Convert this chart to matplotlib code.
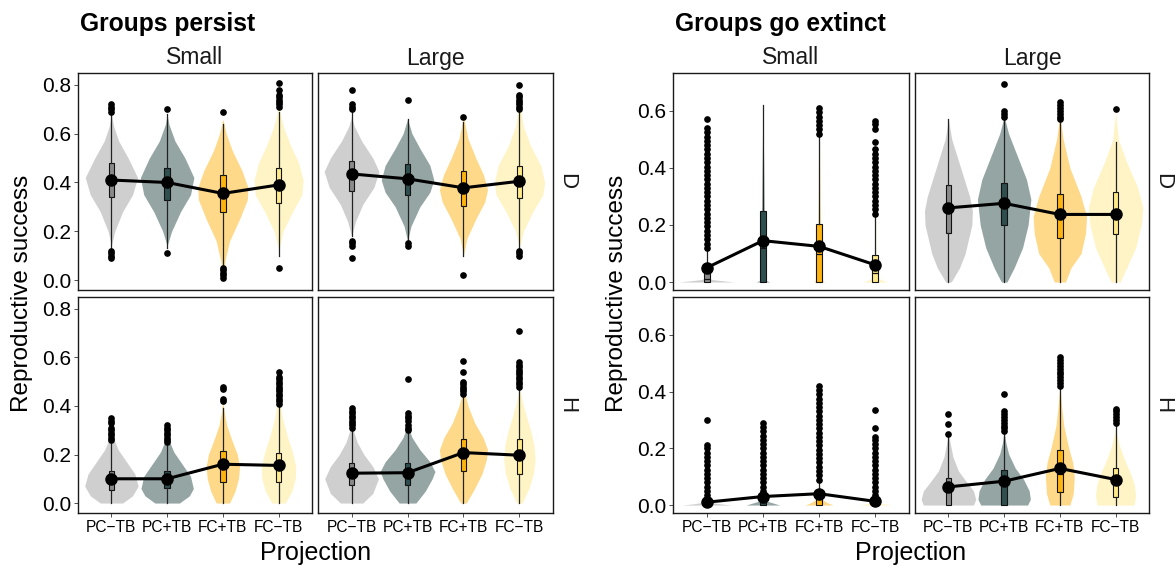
import matplotlib
matplotlib.use('Agg')
import matplotlib.pyplot as plt

plt.rcParams['font.family'] = ['Liberation Sans', 'DejaVu Sans']

categories = ["PC−TB", "PC+TB", "FC+TB", "FC−TB"]
box_colors = ["#8a8a8a", "#2f4f4f", "#ffb30f", "#ffea8a"]
violin_colors = ["#cfcfcf", "#95a5a4", "#fed98a", "#fff4c6"]

# ---- Groups persist ----
# violin outlines: (y, half width in category units)
ps_D_violin = [
    [(0.14, 0), (0.2, 0.06), (0.28, 0.2), (0.35, 0.38), (0.42, 0.47), (0.5, 0.3), (0.57, 0.13), (0.63, 0.04), (0.68, 0)],
    [(0.14, 0), (0.2, 0.08), (0.28, 0.24), (0.35, 0.42), (0.42, 0.48), (0.5, 0.32), (0.57, 0.14), (0.64, 0.03), (0.68, 0)],
    [(0.01, 0), (0.08, 0.04), (0.16, 0.12), (0.25, 0.3), (0.33, 0.44), (0.38, 0.45), (0.45, 0.34), (0.53, 0.17), (0.6, 0.06), (0.66, 0)],
    [(0.12, 0), (0.2, 0.08), (0.28, 0.25), (0.35, 0.42), (0.41, 0.44), (0.48, 0.36), (0.55, 0.22), (0.62, 0.1), (0.68, 0.03), (0.72, 0)],
]
ps_D_box = [[0.13, 0.34, 0.41, 0.48, 0.68], [0.13, 0.33, 0.40, 0.46, 0.68],
            [0.06, 0.28, 0.35, 0.43, 0.64], [0.10, 0.315, 0.39, 0.46, 0.69]]
ps_D_out = [[0.69, 0.70, 0.71, 0.72, 0.12, 0.11, 0.10, 0.09], [0.70, 0.11],
            [0.69, 0.05, 0.04, 0.03, 0.02, 0.01],
            [0.71, 0.72, 0.73, 0.74, 0.75, 0.76, 0.78, 0.81, 0.05]]
ps_D_mean = [0.41, 0.40, 0.355, 0.39]

ps_H_violin = [
    [(0, 0.2), (0.03, 0.38), (0.07, 0.48), (0.12, 0.42), (0.17, 0.27), (0.22, 0.12), (0.27, 0.03), (0.3, 0)],
    [(0, 0.22), (0.03, 0.4), (0.06, 0.47), (0.11, 0.42), (0.16, 0.27), (0.21, 0.12), (0.26, 0.03), (0.29, 0)],
    [(0, 0.12), (0.05, 0.22), (0.1, 0.28), (0.15, 0.3), (0.2, 0.26), (0.26, 0.16), (0.32, 0.07), (0.38, 0.02), (0.42, 0)],
    [(0, 0.12), (0.05, 0.24), (0.1, 0.3), (0.15, 0.31), (0.21, 0.25), (0.28, 0.15), (0.35, 0.07), (0.42, 0.02), (0.46, 0)],
]
ps_H_box = [[0, 0.055, 0.09, 0.13, 0.25], [0, 0.06, 0.09, 0.13, 0.24],
            [0, 0.085, 0.15, 0.215, 0.39], [0, 0.085, 0.145, 0.205, 0.40]]
ps_H_out = [[0.26, 0.27, 0.28, 0.29, 0.30, 0.31, 0.33, 0.34, 0.35],
            [0.25, 0.26, 0.27, 0.28, 0.29, 0.30, 0.31, 0.32],
            [0.42, 0.43, 0.47, 0.48],
            [0.41, 0.42, 0.43, 0.44, 0.45, 0.46, 0.47, 0.48, 0.49, 0.50, 0.51, 0.52, 0.54]]
ps_H_mean = [0.10, 0.10, 0.16, 0.155]

pl_D_violin = [
    [(0.18, 0), (0.24, 0.07), (0.31, 0.2), (0.38, 0.4), (0.445, 0.49), (0.5, 0.38), (0.57, 0.18), (0.63, 0.05), (0.67, 0)],
    [(0.16, 0), (0.22, 0.06), (0.3, 0.22), (0.36, 0.4), (0.41, 0.47), (0.47, 0.4), (0.54, 0.22), (0.6, 0.08), (0.66, 0)],
    [(0.1, 0), (0.17, 0.06), (0.25, 0.22), (0.32, 0.38), (0.37, 0.43), (0.43, 0.36), (0.5, 0.22), (0.58, 0.08), (0.67, 0)],
    [(0.13, 0), (0.2, 0.07), (0.28, 0.24), (0.35, 0.42), (0.4, 0.45), (0.47, 0.38), (0.55, 0.2), (0.63, 0.07), (0.74, 0)],
]
pl_D_box = [[0.18, 0.367, 0.43, 0.49, 0.69], [0.16, 0.35, 0.41, 0.475, 0.66],
            [0.10, 0.305, 0.375, 0.449, 0.65], [0.13, 0.338, 0.40, 0.469, 0.69]]
pl_D_out = [[0.70, 0.71, 0.72, 0.78, 0.16, 0.15, 0.14, 0.09], [0.74, 0.15, 0.14],
            [0.67, 0.02],
            [0.70, 0.71, 0.72, 0.73, 0.74, 0.75, 0.76, 0.80, 0.12, 0.11, 0.10]]
pl_D_mean = [0.435, 0.415, 0.378, 0.405]

pl_H_violin = [
    [(0, 0.2), (0.04, 0.38), (0.1, 0.48), (0.15, 0.38), (0.2, 0.22), (0.25, 0.1), (0.3, 0.03), (0.33, 0)],
    [(0, 0.15), (0.05, 0.32), (0.1, 0.44), (0.13, 0.49), (0.17, 0.4), (0.22, 0.22), (0.27, 0.08), (0.32, 0)],
    [(0, 0.05), (0.06, 0.2), (0.12, 0.33), (0.18, 0.41), (0.22, 0.43), (0.27, 0.35), (0.33, 0.2), (0.4, 0.08), (0.47, 0)],
    [(0, 0.05), (0.06, 0.17), (0.12, 0.25), (0.18, 0.28), (0.24, 0.26), (0.3, 0.2), (0.36, 0.12), (0.42, 0.05), (0.48, 0)],
]
pl_H_box = [[0, 0.074, 0.12, 0.164, 0.30], [0, 0.074, 0.12, 0.164, 0.29],
            [0, 0.133, 0.20, 0.263, 0.44], [0, 0.12, 0.19, 0.263, 0.47]]
pl_H_out = [[0.31, 0.32, 0.33, 0.34, 0.35, 0.36, 0.37, 0.38, 0.39],
            [0.30, 0.31, 0.32, 0.34, 0.35, 0.36, 0.37, 0.51],
            [0.45, 0.46, 0.47, 0.48, 0.49, 0.50, 0.54, 0.585],
            [0.48, 0.49, 0.50, 0.51, 0.52, 0.53, 0.54, 0.55, 0.56, 0.57, 0.58, 0.71]]
pl_H_mean = [0.123, 0.125, 0.208, 0.197]

# ---- Groups go extinct ----
es_D_violin = [
    [(0, 0.49), (0.004, 0.3), (0.008, 0.12), (0.014, 0)],
    [(0, 0.12), (0.006, 0.05), (0.05, 0.035), (0.2, 0.025), (0.4, 0.015), (0.62, 0)],
    [(0, 0.09), (0.01, 0.05), (0.1, 0.025), (0.3, 0.015), (0.5, 0.008), (0.61, 0)],
    [(0, 0.21), (0.008, 0.1), (0.02, 0.03), (0.1, 0.01), (0.3, 0.005), (0.57, 0)],
]
es_D_box = [[0, 0, 0.01, 0.035, 0.114], [0, 0, 0.12, 0.25, 0.62],
            [0, 0, 0.10, 0.205, 0.51], [0, 0, 0.03, 0.095, 0.235]]
es_D_out = [[0.12, 0.135, 0.15, 0.165, 0.18, 0.195, 0.21, 0.225, 0.24, 0.255, 0.27, 0.285,
             0.30, 0.315, 0.33, 0.345, 0.36, 0.375, 0.39, 0.405, 0.42, 0.435, 0.45, 0.465,
             0.48, 0.495, 0.51, 0.525, 0.54, 0.57],
            [],
            [0.52, 0.535, 0.55, 0.565, 0.58, 0.595, 0.61],
            [0.24, 0.255, 0.27, 0.285, 0.30, 0.315, 0.33, 0.345, 0.36, 0.375, 0.39, 0.405,
             0.42, 0.435, 0.45, 0.465, 0.49, 0.535, 0.555, 0.565]]
es_D_mean = [0.05, 0.145, 0.125, 0.06]

es_H_violin = [
    [(0, 0.45), (0.004, 0.25), (0.01, 0.05), (0.02, 0)],
    [(0, 0.3), (0.006, 0.2), (0.015, 0.05), (0.03, 0.01), (0.06, 0)],
    [(0, 0.25), (0.008, 0.15), (0.02, 0.05), (0.05, 0.015), (0.1, 0)],
    [(0, 0.3), (0.004, 0.15), (0.01, 0.03), (0.02, 0)],
]
es_H_box = [[0, 0, 0, 0.005, 0.015], [0, 0, 0.01, 0.02, 0.045],
            [0, 0, 0.02, 0.04, 0.09], [0, 0, 0, 0.005, 0.015]]
es_H_out = [[0.02, 0.035, 0.05, 0.065, 0.08, 0.095, 0.11, 0.125, 0.14, 0.155, 0.17, 0.185,
             0.20, 0.21, 0.30],
            [0.05, 0.065, 0.08, 0.095, 0.11, 0.125, 0.14, 0.155, 0.17, 0.185, 0.20, 0.215,
             0.23, 0.245, 0.26, 0.275, 0.29],
            [0.09, 0.105, 0.12, 0.135, 0.15, 0.165, 0.18, 0.195, 0.21, 0.225, 0.24, 0.255,
             0.27, 0.285, 0.30, 0.315, 0.33, 0.345, 0.36, 0.375, 0.39, 0.405, 0.42],
            [0.02, 0.035, 0.05, 0.065, 0.08, 0.095, 0.11, 0.125, 0.14, 0.155, 0.17, 0.185,
             0.20, 0.215, 0.23, 0.24, 0.27, 0.335]]
es_H_mean = [0.01, 0.03, 0.04, 0.013]

el_D_violin = [
    [(0, 0.05), (0.05, 0.2), (0.1, 0.3), (0.2, 0.42), (0.25, 0.43), (0.3, 0.38), (0.4, 0.22), (0.5, 0.06), (0.57, 0)],
    [(0, 0.05), (0.05, 0.18), (0.12, 0.33), (0.2, 0.43), (0.29, 0.48), (0.36, 0.4), (0.45, 0.22), (0.52, 0.08), (0.58, 0)],
    [(0, 0.1), (0.05, 0.2), (0.1, 0.38), (0.17, 0.46), (0.23, 0.48), (0.3, 0.38), (0.4, 0.18), (0.5, 0.06), (0.57, 0.01), (0.6, 0)],
    [(0, 0.08), (0.05, 0.2), (0.12, 0.36), (0.2, 0.46), (0.26, 0.49), (0.33, 0.4), (0.42, 0.2), (0.5, 0.05), (0.6, 0)],
]
el_D_box = [[0, 0.173, 0.25, 0.34, 0.57], [0, 0.20, 0.27, 0.347, 0.57],
            [0, 0.153, 0.23, 0.31, 0.56], [0, 0.167, 0.23, 0.315, 0.49]]
el_D_out = [[], [0.58, 0.59, 0.60, 0.695],
            [0.57, 0.58, 0.59, 0.60, 0.61, 0.62, 0.63], [0.605]]
el_D_mean = [0.26, 0.276, 0.237, 0.237]

el_H_violin = [
    [(0, 0.45), (0.02, 0.49), (0.05, 0.45), (0.08, 0.33), (0.12, 0.18), (0.17, 0.08), (0.22, 0.03), (0.25, 0)],
    [(0, 0.42), (0.02, 0.47), (0.05, 0.45), (0.09, 0.35), (0.13, 0.2), (0.18, 0.08), (0.22, 0.03), (0.26, 0)],
    [(0, 0.18), (0.04, 0.24), (0.1, 0.26), (0.15, 0.23), (0.2, 0.16), (0.28, 0.07), (0.35, 0.03), (0.43, 0)],
    [(0, 0.33), (0.03, 0.36), (0.07, 0.34), (0.11, 0.27), (0.16, 0.16), (0.21, 0.07), (0.25, 0.02), (0.28, 0)],
]
el_H_box = [[0, 0, 0.05, 0.097, 0.24], [0, 0, 0.07, 0.123, 0.25],
            [0, 0.047, 0.11, 0.193, 0.41], [0, 0.027, 0.08, 0.131, 0.29]]
el_H_out = [[0.25, 0.285, 0.32],
            [0.26, 0.27, 0.28, 0.29, 0.30, 0.31, 0.32, 0.33, 0.39],
            [0.42, 0.43, 0.44, 0.45, 0.46, 0.47, 0.48, 0.49, 0.50, 0.51, 0.52],
            [0.29, 0.30, 0.31, 0.32, 0.33, 0.34]]
el_H_mean = [0.064, 0.084, 0.129, 0.09]

W, H = 1175, 568
fig = plt.figure(figsize=(W / 100, H / 100), dpi=100)


def panel_axes(x0, x1, y0, y1):
    return fig.add_axes([x0 / W, (H - y1) / H, (x1 - x0) / W, (y1 - y0) / H])


def draw_panel(ax, violins, boxes, outs, means, ylim, yticks, left, bottom):
    pos = [1, 2, 3, 4]
    for p, prof, col in zip(pos, violins, violin_colors):
        ys = [a for a, b in prof]
        ws = [b for a, b in prof]
        ax.fill_betweenx(ys, [p - w for w in ws], [p + w for w in ws],
                         color=col, lw=0, zorder=1)
    stats = [dict(whislo=b[0], q1=b[1], med=b[2], q3=b[3], whishi=b[4], fliers=o)
             for b, o in zip(boxes, outs)]
    bp = ax.bxp(stats, positions=pos, widths=0.1, patch_artist=True, showcaps=False,
                boxprops=dict(edgecolor="#111111", linewidth=0.8),
                whiskerprops=dict(color="#222222", linewidth=0.9),
                medianprops=dict(color="#111111", linewidth=0.9),
                flierprops=dict(marker="o", markersize=3.8, markerfacecolor="black",
                                markeredgecolor="black", linestyle="none"),
                zorder=2)
    for patch, col in zip(bp["boxes"], box_colors):
        patch.set_facecolor(col)
    ax.plot(pos, means, color="black", lw=2.2, zorder=4)
    ax.plot(pos, means, "o", color="black", markersize=8, zorder=5)
    ax.set_xlim(0.4, 4.6)
    ax.set_ylim(*ylim)
    for s in ax.spines.values():
        s.set_linewidth(1.0)
        s.set_color("#1a1a1a")
    ax.tick_params(length=3, width=0.6, color="#333333", pad=2)
    if left:
        ax.set_yticks(yticks)
        ax.set_yticklabels([f"{t:.1f}" for t in yticks], fontsize=15)
    else:
        ax.set_yticks([])
    if bottom:
        ax.set_xticks(pos)
        ax.set_xticklabels(categories, fontsize=11.2)
    else:
        ax.set_xticks([])


rows = [(73, 290), (297, 513)]
groups = [
    dict(cols=[(78, 312), (318, 553)], ylim=(-0.041, 0.849), yticks=[0.0, 0.2, 0.4, 0.6, 0.8],
         panels=[[(ps_D_violin, ps_D_box, ps_D_out, ps_D_mean), (pl_D_violin, pl_D_box, pl_D_out, pl_D_mean)],
                 [(ps_H_violin, ps_H_box, ps_H_out, ps_H_mean), (pl_H_violin, pl_H_box, pl_H_out, pl_H_mean)]],
         title="Groups persist"),
    dict(cols=[(673, 909), (915, 1149)], ylim=(-0.028, 0.733), yticks=[0.0, 0.2, 0.4, 0.6],
         panels=[[(es_D_violin, es_D_box, es_D_out, es_D_mean), (el_D_violin, el_D_box, el_D_out, el_D_mean)],
                 [(es_H_violin, es_H_box, es_H_out, es_H_mean), (el_H_violin, el_H_box, el_H_out, el_H_mean)]],
         title="Groups go extinct"),
]

for g in groups:
    for r, (y0, y1) in enumerate(rows):
        for c, (x0, x1) in enumerate(g["cols"]):
            ax = panel_axes(x0, x1, y0, y1)
            v, b, o, m = g["panels"][r][c]
            draw_panel(ax, v, b, o, m, g["ylim"], g["yticks"], c == 0, r == 1)
    gx0, gx1 = g["cols"][0][0], g["cols"][1][1]
    for (x0, x1), lab in zip(g["cols"], ["Small", "Large"]):
        fig.text((x0 + x1) / 2 / W, 1 - 58 / H, lab, ha="center", va="center",
                 fontsize=16.5, color="#1a1a1a")
    for (y0, y1), lab in zip(rows, ["D", "H"]):
        fig.text((gx1 + 14) / W, 1 - (y0 + y1) / 2 / H, lab, ha="center", va="center",
                 rotation=-90, fontsize=16, color="#1a1a1a")
    fig.text((gx0 + 2) / W, 1 - 24 / H, g["title"], ha="left", va="center",
             fontsize=17.7, fontweight="bold")
    fig.text((gx0 + gx1) / 2 / W, 1 - 553 / H, "Projection", ha="center", va="center",
             fontsize=18)
    fig.text((gx0 - 56) / W, 1 - 293 / H, "Reproductive success", ha="center", va="center",
             rotation=90, fontsize=17.5)

fig.savefig("out.png", dpi=100)
